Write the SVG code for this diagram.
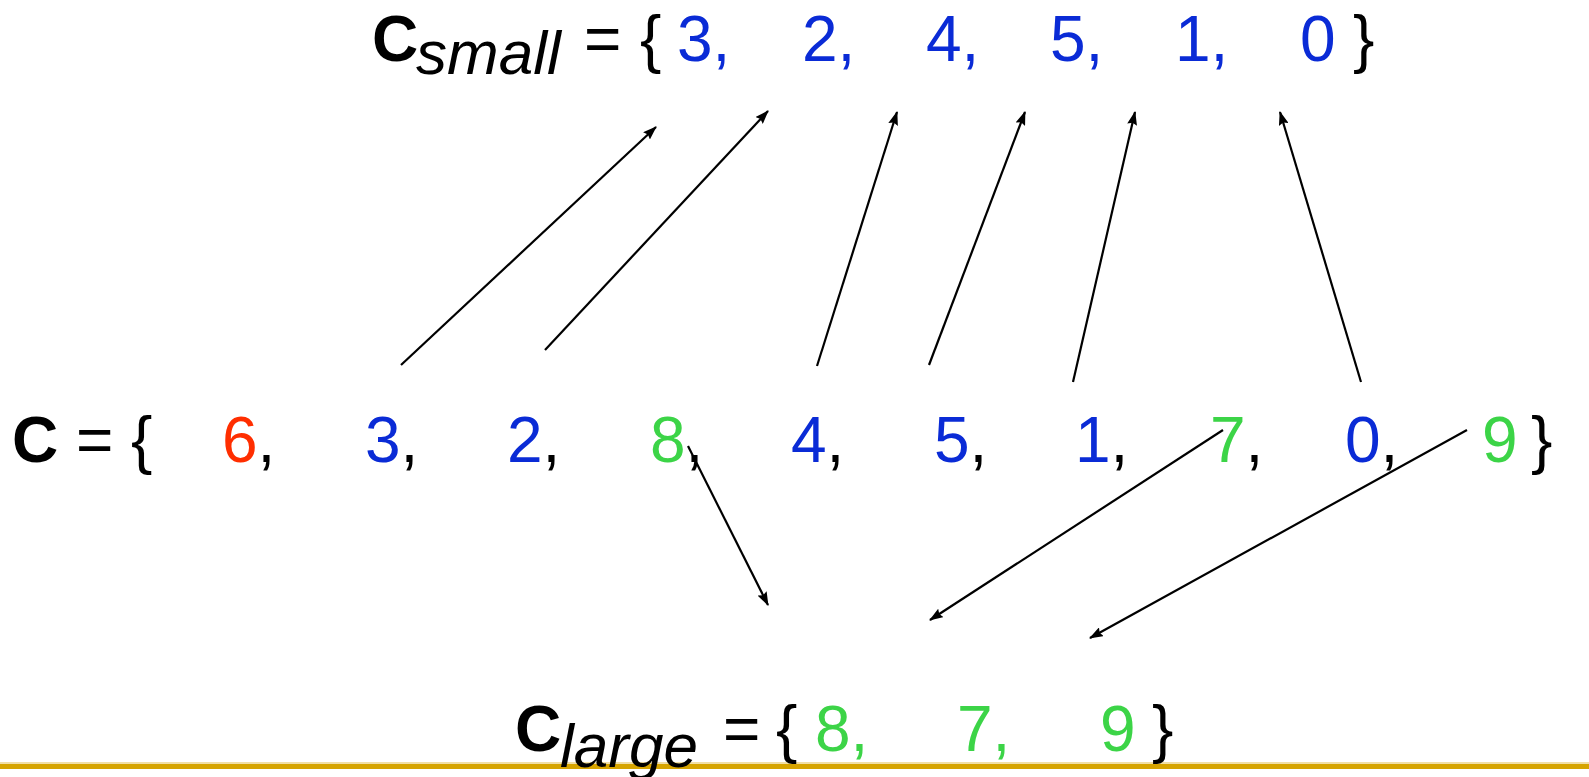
<svg xmlns="http://www.w3.org/2000/svg" width="1589" height="777" viewBox="0 0 1589 777">
  <defs>
    <style>
      text { font-family: "Liberation Sans", Arial, sans-serif; font-size: 64px; }
      .set { font-weight: bold; fill: #000; }
      .sub { font-style: italic; font-size: 62px; fill: #000; }
      .sym { fill: #000; }
      .blue { fill: #0a2bd6; }
      .red { fill: #ff2e00; }
      .green { fill: #3cd447; }
      .comma { fill: #000; }
      .arrow { stroke: #000; stroke-width: 2.2; fill: none; marker-end: url(#head); }
    </style>
    <marker id="head" markerUnits="userSpaceOnUse" markerWidth="14" markerHeight="10" viewBox="0 0 14 10" refX="13" refY="5" orient="auto">
      <path d="M0,0 L14,5 L0,10 L2,5 Z" fill="#000"/>
    </marker>
  </defs>

  <rect width="1589" height="777" fill="#fff"/>

  <!-- rule along the bottom edge -->
  <g id="rule">
    <line x1="0" y1="763" x2="1589" y2="763" stroke="#f1dfa6" stroke-width="2"/>
    <line x1="0" y1="766.5" x2="1589" y2="766.5" stroke="#d6a400" stroke-width="5"/>
  </g>

  <!-- C_small set -->
  <g id="c-small">
    <text class="set" x="372" y="61">C</text>
    <text class="sub" x="416" y="74">small</text>
    <text class="sym" x="584" y="61">=</text>
    <text class="sym" x="640" y="61">{</text>
    <text class="blue" x="677" y="61">3,</text>
    <text class="blue" x="802" y="61">2,</text>
    <text class="blue" x="926" y="61">4,</text>
    <text class="blue" x="1050" y="61">5,</text>
    <text class="blue" x="1175" y="61">1,</text>
    <text class="blue" x="1300" y="61">0</text>
    <text class="sym" x="1353" y="61">}</text>
  </g>

  <!-- C set -->
  <g id="c-full">
    <text class="set" x="12" y="462">C</text>
    <text class="sym" x="76" y="462">=</text>
    <text class="sym" x="131" y="462">{</text>
    <text x="222" y="462"><tspan class="red">6</tspan><tspan class="comma">,</tspan></text>
    <text x="365" y="462"><tspan class="blue">3</tspan><tspan class="comma">,</tspan></text>
    <text x="507" y="462"><tspan class="blue">2</tspan><tspan class="comma">,</tspan></text>
    <text x="650" y="462"><tspan class="green">8</tspan><tspan class="comma">,</tspan></text>
    <text x="791" y="462"><tspan class="blue">4</tspan><tspan class="comma">,</tspan></text>
    <text x="934" y="462"><tspan class="blue">5</tspan><tspan class="comma">,</tspan></text>
    <text x="1075" y="462"><tspan class="blue">1</tspan><tspan class="comma">,</tspan></text>
    <text x="1210" y="462"><tspan class="green">7</tspan><tspan class="comma">,</tspan></text>
    <text x="1345" y="462"><tspan class="blue">0</tspan><tspan class="comma">,</tspan></text>
    <text class="green" x="1482" y="462">9</text>
    <text class="sym" x="1531" y="462">}</text>
  </g>

  <!-- C_large set -->
  <g id="c-large">
    <text class="set" x="515" y="751">C</text>
    <text class="sub" x="560" y="767">large</text>
    <text class="sym" x="723" y="751">=</text>
    <text class="sym" x="776" y="751">{</text>
    <text class="green" x="815" y="751">8,</text>
    <text class="green" x="957" y="751">7,</text>
    <text class="green" x="1100" y="751">9</text>
    <text class="sym" x="1152" y="751">}</text>
  </g>

  <!-- connectors -->
  <g id="connectors">
    <line class="arrow" x1="401" y1="365" x2="656" y2="127"/>
    <line class="arrow" x1="545" y1="350" x2="768" y2="111"/>
    <line class="arrow" x1="817" y1="366" x2="897" y2="112"/>
    <line class="arrow" x1="929" y1="365" x2="1025" y2="112"/>
    <line class="arrow" x1="1073" y1="382" x2="1135" y2="112"/>
    <line class="arrow" x1="1361" y1="382" x2="1280" y2="112"/>
    <line class="arrow" x1="688" y1="446" x2="768" y2="605"/>
    <line class="arrow" x1="1223" y1="430" x2="930" y2="620"/>
    <line class="arrow" x1="1467" y1="430" x2="1090" y2="638"/>
  </g>
</svg>
